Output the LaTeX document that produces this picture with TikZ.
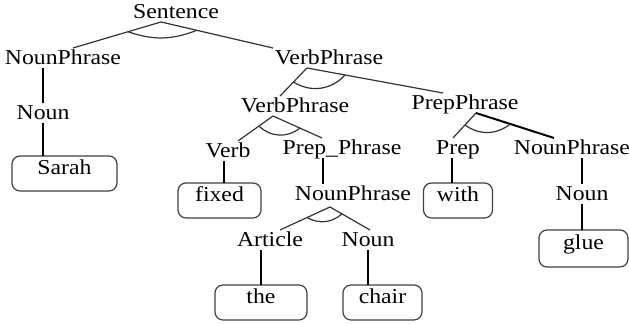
\documentclass[tikz,border=0pt]{standalone}
\usepackage{fontspec}
\setmainfont{Liberation Serif}[FakeStretch=1.12]
\usepackage{tikz}
\usetikzlibrary{positioning, calc}

\begin{document}
\begin{tikzpicture}[
            % Estilos de los nodos
            cat/.style={inner xsep=1pt, inner ysep=0.5pt, outer sep=0pt, text height=8pt, text depth=1pt, font=\fontsize{10.6}{13}\selectfont},
            word/.style={rectangle, rounded corners=4pt, draw=black!75, line width=0.6pt, inner sep=0pt, outer sep=0pt,
                         minimum height=17.5pt, text height=8pt, text depth=7pt, font=\fontsize{10.6}{13}\selectfont},
            rama/.style={draw=black!80, line width=0.6pt},
            enlace/.style={draw=black, line width=1.3pt},
            arco/.style={draw=black!80, line width=0.6pt}
        ]

            \useasboundingbox (0,0) rectangle (314.5pt,-162pt);

            % Definición de nodos
            \node[cat, anchor=base] (s) at (88pt,-9.5pt) {Sentence};
            \node[cat, below=13pt of s, xshift=-56.5pt] (np) {NounPhrase};
            \node[cat, below=13pt of s, xshift=76.5pt] (vp) {VerbPhrase};
            \node[cat, below=17.5pt of np, xshift=-10pt] (n1) {Noun};
            \node[word, minimum width=52.5pt, below=16.5pt of n1, xshift=10.75pt] (sarah) {Sarah};
            \node[cat, below=14pt of vp, xshift=-17pt] (vp2) {VerbPhrase};
            \node[cat, below=12.5pt of vp, xshift=68pt] (pp) {PrepPhrase};
            \node[cat, below=12.5pt of vp2, xshift=-33.5pt] (verb) {Verb};
            \node[cat, below=11pt of vp2, xshift=23.5pt] (ppx) {Prep\_Phrase};
            \node[cat, below=12.5pt of pp, xshift=-3.5pt] (prep) {Prep};
            \node[cat, below=12.5pt of pp, xshift=53.5pt] (np2) {NounPhrase};
            \node[word, minimum width=41.5pt, below=11pt of verb, xshift=-4.25pt] (fixed) {fixed};
            \node[cat, below=13pt of ppx, xshift=5.5pt] (np3) {NounPhrase};
            \node[word, minimum width=34.5pt, below=12.5pt of prep] (with) {with};
            \node[cat, below=13pt of np2, xshift=5pt] (n2) {Noun};
            \node[word, minimum width=44.5pt, minimum height=18.5pt, below=13pt of n2, xshift=0.75pt] (glue) {glue};
            \node[cat, below=13pt of np3, xshift=-41.5pt] (art) {Article};
            \node[cat, below=13pt of np3, xshift=7.5pt] (n3) {Noun};
            \node[word, minimum width=46pt, below=17.5pt of art, xshift=-4.5pt] (the) {the};
            \node[word, minimum width=39.5pt, below=17.5pt of n3, xshift=7.25pt] (chair) {chair};

            % Ramas con arco (conjunción)
            \draw[rama] ([xshift=-7.5pt]s.south) -- coordinate[pos=0.375] (s-l) ([xshift=5pt]np.north);
            \draw[rama] ([xshift=-7.5pt]s.south) -- coordinate[pos=0.32] (s-r) ([xshift=-28pt]vp.north);
            \draw[arco] (s-l) to[bend right=20] (s-r);

            \draw[rama] ([xshift=-11pt]vp.south) -- coordinate[pos=0.5] (vp-l) ([xshift=-7.5pt]vp2.north);
            \draw[rama] ([xshift=-11pt]vp.south) -- coordinate[pos=0.28] (vp-r) ([xshift=-11pt]pp.north);
            \draw[arco] (vp-l) to[bend right=40] (vp-r);

            \draw[rama] ([xshift=-11pt]vp2.south) -- coordinate[pos=0.4] (vp2-l) ([xshift=5pt]verb.north);
            \draw[rama] ([xshift=-11pt]vp2.south) -- coordinate[pos=0.55] (vp2-r) ([xshift=-10pt]ppx.north);
            \draw[arco] (vp2-l) to[bend right=42] (vp2-r);

            \draw[rama] ([xshift=5.5pt]pp.south) -- coordinate[pos=0.48] (pp-l) ([xshift=-2.5pt]prep.north);
            \draw[enlace, line width=1pt] ([xshift=5.5pt]pp.south) -- coordinate[pos=0.44] (pp-r) ([xshift=-9pt]np2.north);
            \draw[arco] (pp-l) to[bend right=37] (pp-r);

            \draw[rama] ([xshift=-11.5pt,yshift=-1.5pt]np3.south) -- coordinate[pos=0.46] (np3-l) ([xshift=5pt]art.north);
            \draw[rama] ([xshift=-11.5pt,yshift=-1.5pt]np3.south) -- coordinate[pos=0.3] (np3-r) ([xshift=1pt]n3.north);
            \draw[arco] (np3-l) to[bend right=35] (np3-r);

            % Enlaces verticales
            \draw[enlace] (n1.north |- np.south) -- (n1.north);
            \draw[enlace] (n1.south) -- (n1.south |- sarah.north);
            \draw[enlace] ($(verb.south)+(-2pt,0)$) -- ($(verb.south |- fixed.north)+(-2pt,0)$);
            \draw[enlace] ($(ppx.south)+(-9.5pt,0)$) -- ($(ppx.south |- np3.north)+(-9.5pt,0)$);
            \draw[enlace] ($(prep.south)+(-3pt,0)$) -- ($(prep.south |- with.north)+(-3pt,0)$);
            \draw[enlace] (n2.north |- np2.south) -- (n2.north);
            \draw[enlace] (n2.south) -- (n2.south |- glue.north);
            \draw[enlace] (the.north |- art.south) -- (the.north);
            \draw[enlace] (n3.south) -- (n3.south |- chair.north);
        \end{tikzpicture}
\end{document}
